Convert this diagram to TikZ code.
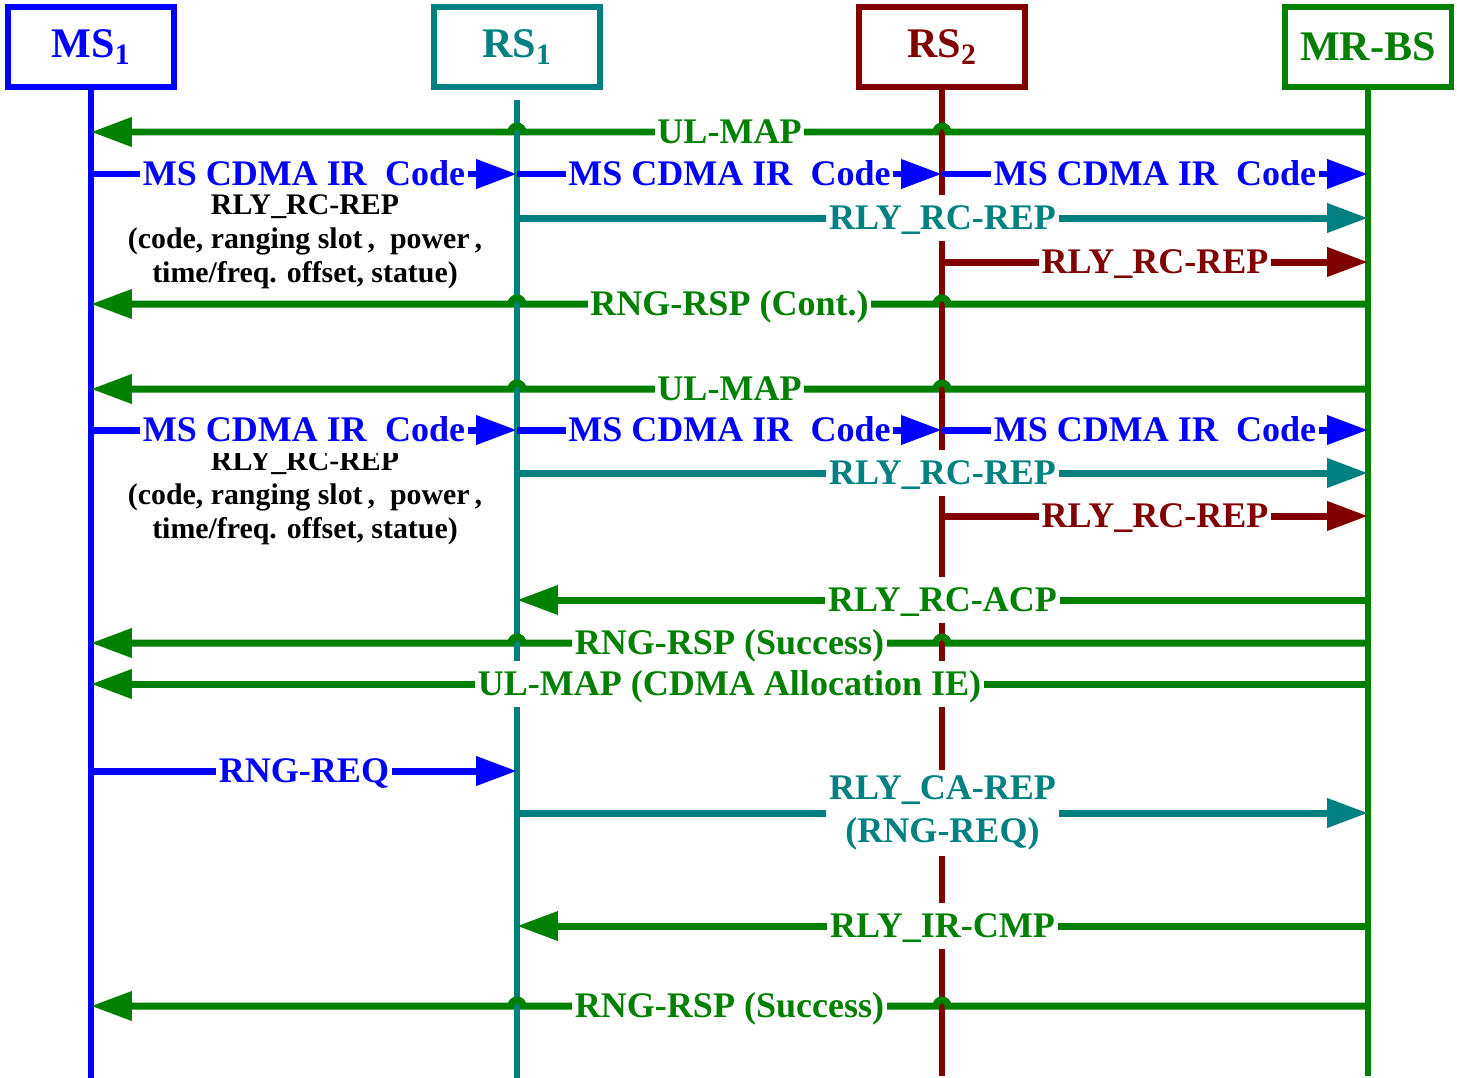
\documentclass[tikz,border=0pt]{standalone}
\usepackage{fontspec}
\setmainfont{Liberation Serif}
\usepackage{tikz}
\usetikzlibrary{arrows.meta,calc}
\definecolor{msblue}{RGB}{0,0,255}
\definecolor{rsteal}{RGB}{0,128,128}
\definecolor{rsred}{RGB}{128,0,0}
\definecolor{bsgreen}{RGB}{0,128,0}
\tikzstyle{entity} = [draw, line width=0.11cm, minimum width=3.33cm, minimum height=1.61cm, inner sep=0pt, font=\fontsize{24}{26}\selectfont\bfseries]
\tikzstyle{life} = [line width=0.13cm]
\tikzstyle{msg} = [line width=0.14cm, -{Triangle[length=0.82cm,width=0.56cm]}]
\tikzstyle{lbl} = [fill=white, inner xsep=1.5pt, inner ysep=3pt, text height=16.7pt, text depth=3.5pt, font=\fontsize{20.5}{22}\selectfont\bfseries]
\tikzstyle{lbltwo} = [fill=white, inner xsep=1.5pt, inner ysep=3pt, align=center, font=\fontsize{20.5}{24.5}\selectfont\bfseries]
\tikzstyle{note} = [align=center, inner sep=0pt, font=\fontsize{17}{19.5}\selectfont\bfseries]

\begin{document}
\begin{tikzpicture}[x=0.02cm, y=-0.02cm]
\useasboundingbox (0,0) rectangle (1457,1078);

% Entities
\node[entity, msblue] (ms) at (91,47) {MS\textsubscript{1}};
\node[entity, rsteal] (rsa) at (517,47) {RS\textsubscript{1}};
\node[entity, rsred] (rsb) at (942,47) {RS\textsubscript{2}};
\node[entity, bsgreen] (bs) at (1368,47) {MR-BS};

% Lifelines
\draw[life, msblue] (ms.south) -- (ms |- 0,1078);
\draw[life, rsteal] ([yshift=-0.2cm]rsa.south) -- (rsa |- 0,1078);
\draw[life, rsred] (rsb.south) -- (rsb |- 0,1076);
\draw[life, bsgreen] (bs.south) -- (bs |- 0,1076);

% First ranging attempt
\draw[msg, bsgreen] (bs |- 0,132) -- ($(rsb |- 0,132)+(6,0)$) arc[start angle=0, end angle=180, radius=0.12cm]
  -- node[lbl] {UL-MAP} ($(rsa |- 0,132)+(6,0)$) arc[start angle=0, end angle=180, radius=0.12cm] -- (ms |- 0,132);
\draw[msg, msblue] (ms |- 0,174) -- node[lbl] {MS CDMA IR\ \ Code} (rsa |- 0,174);
\draw[msg, msblue] (rsa |- 0,174) -- node[lbl] {MS CDMA IR\ \ Code} (rsb |- 0,174);
\draw[msg, msblue] (rsb |- 0,174) -- node[lbl] {MS CDMA IR\ \ Code} (bs |- 0,174);
\node[note] (rep1) at (305,242) {RLY\_RC-REP\\(code, ranging slot\,,\ \ power\,,\\time/freq. offset, statue)};
\draw[msg, rsteal] (rsa |- 0,218) -- node[lbl] {RLY\_RC-REP} (bs |- 0,218);
\draw[msg, rsred] (rsb |- 0,262) -- node[lbl] {RLY\_RC-REP} (bs |- 0,262);
\draw[msg, bsgreen] (bs |- 0,304) -- ($(rsb |- 0,304)+(6,0)$) arc[start angle=0, end angle=180, radius=0.12cm]
  -- node[lbl] {RNG-RSP (Cont.)} ($(rsa |- 0,304)+(6,0)$) arc[start angle=0, end angle=180, radius=0.12cm] -- (ms |- 0,304);

% Second ranging attempt
\draw[msg, bsgreen] (bs |- 0,389) -- ($(rsb |- 0,389)+(6,0)$) arc[start angle=0, end angle=180, radius=0.12cm]
  -- node[lbl] {UL-MAP} ($(rsa |- 0,389)+(6,0)$) arc[start angle=0, end angle=180, radius=0.12cm] -- (ms |- 0,389);
\node[note] (rep2) at (305,498) {RLY\_RC-REP\\(code, ranging slot\,,\ \ power\,,\\time/freq. offset, statue)};
\draw[msg, msblue] (ms |- 0,430) -- node[lbl] {MS CDMA IR\ \ Code} (rsa |- 0,430);
\draw[msg, msblue] (rsa |- 0,430) -- node[lbl] {MS CDMA IR\ \ Code} (rsb |- 0,430);
\draw[msg, msblue] (rsb |- 0,430) -- node[lbl] {MS CDMA IR\ \ Code} (bs |- 0,430);
\draw[msg, rsteal] (rsa |- 0,473) -- node[lbl] {RLY\_RC-REP} (bs |- 0,473);
\draw[msg, rsred] (rsb |- 0,516) -- node[lbl] {RLY\_RC-REP} (bs |- 0,516);
\draw[msg, bsgreen] (bs |- 0,600) -- node[lbl] {RLY\_RC-ACP} (rsa |- 0,600);
\draw[msg, bsgreen] (bs |- 0,643) -- ($(rsb |- 0,643)+(6,0)$) arc[start angle=0, end angle=180, radius=0.12cm]
  -- node[lbl] {RNG-RSP (Success)} ($(rsa |- 0,643)+(6,0)$) arc[start angle=0, end angle=180, radius=0.12cm] -- (ms |- 0,643);
\draw[msg, bsgreen] (bs |- 0,684) -- node[lbl] {UL-MAP (CDMA Allocation IE)} (ms |- 0,684);

% Ranging request
\draw[msg, msblue] (ms |- 0,771) -- node[lbl] {RNG-REQ} (rsa |- 0,771);
\draw[msg, rsteal] (rsa |- 0,813) -- node[lbltwo] {RLY\_CA-REP\\(RNG-REQ)} (bs |- 0,813);
\draw[msg, bsgreen] (bs |- 0,926) -- node[lbl] {RLY\_IR-CMP} (rsa |- 0,926);
\draw[msg, bsgreen] (bs |- 0,1006) -- ($(rsb |- 0,1006)+(6,0)$) arc[start angle=0, end angle=180, radius=0.12cm]
  -- node[lbl] {RNG-RSP (Success)} ($(rsa |- 0,1006)+(6,0)$) arc[start angle=0, end angle=180, radius=0.12cm] -- (ms |- 0,1006);
\end{tikzpicture}
\end{document}
